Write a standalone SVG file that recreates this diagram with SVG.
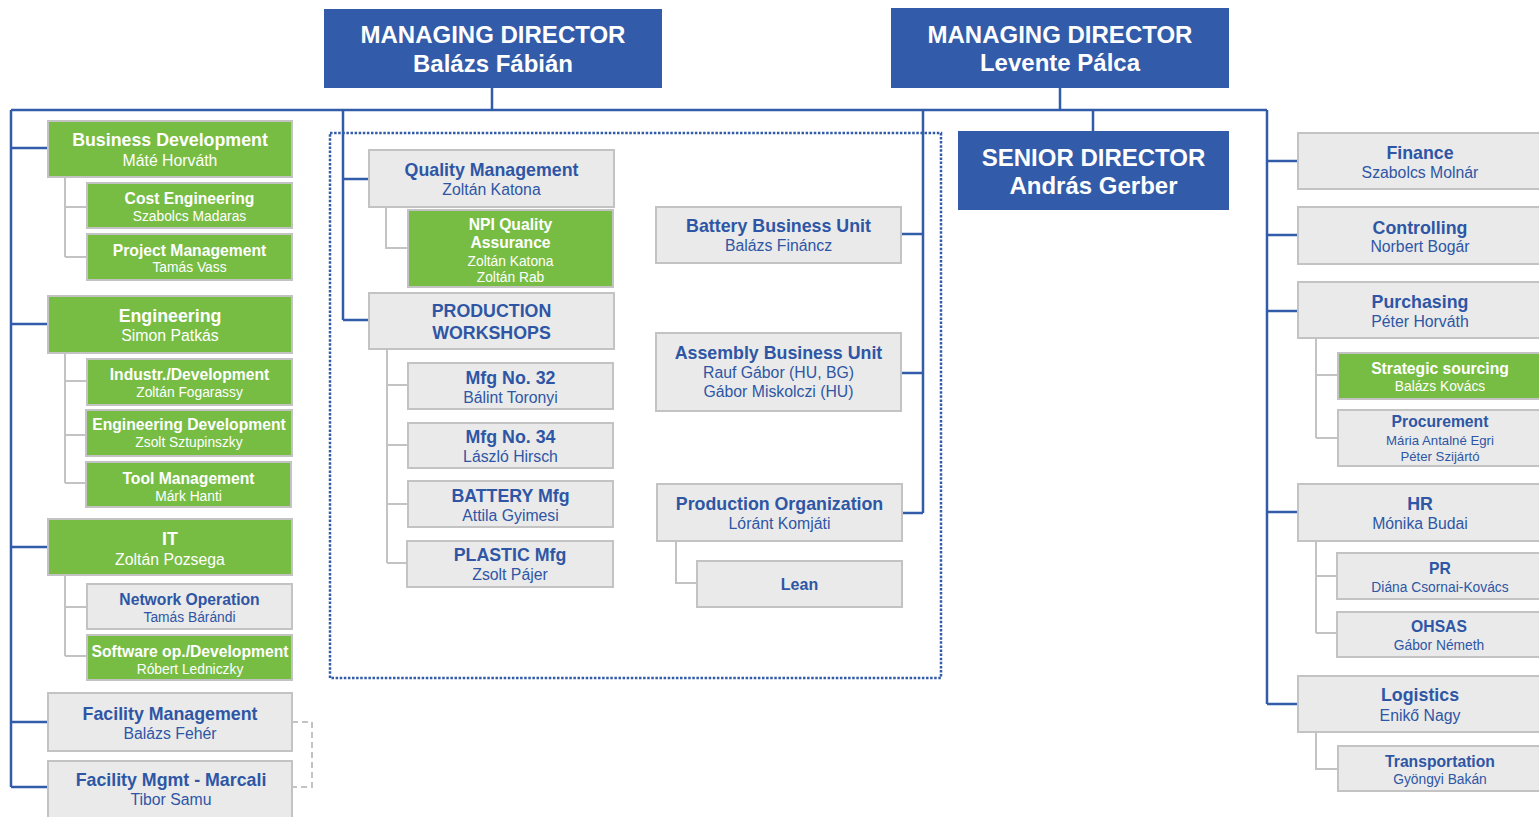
<svg xmlns="http://www.w3.org/2000/svg" width="1539" height="817" viewBox="0 0 1539 817">
<style>
text{font-family:"Liberation Sans",Arial,sans-serif;text-anchor:middle}
.g{fill:#77bd43;stroke:#c3c3c3;stroke-width:2}
.w{fill:#eaeaea;stroke:#c3c3c3;stroke-width:2}
.d{fill:#325ba9}
.t1{font-size:17.8px;font-weight:bold}
.n1{font-size:15.8px}
.t2{font-size:15.7px;font-weight:bold}
.n2{font-size:13.8px}
.dt{font-size:24px;font-weight:bold;fill:#fff}
.g ~ text{fill:#fff}
.w ~ text{fill:#2e56a5}
.bl{fill:none;stroke:#325ba9;stroke-width:2.5}
.gr{fill:none;stroke:#c3c3c3;stroke-width:2}
.ds{fill:none;stroke:#c3c3c3;stroke-width:2;stroke-dasharray:6 4}
.dot{fill:none;stroke:#325ba9;stroke-width:2.5;stroke-dasharray:2.5 1.6}
</style>
<g id="connectors">
<rect class="dot" x="330" y="133" width="611" height="545"/>
<path class="bl" d="M11,110 H1267 M492,88 V110 M1060,88 V110 M1093,110 V131"/>
<path class="bl" d="M11,110 V787 M11,148 H48 M11,324 H48 M11,547 H48 M11,722 H48 M11,787 H48"/>
<path class="bl" d="M343,110 V320 M343,179 H369 M343,320 H369"/>
<path class="bl" d="M923,110 V513 M901,234 H923 M901,373 H923 M902,513 H923"/>
<path class="bl" d="M1267,110 V704 M1267,161 H1298 M1267,235 H1298 M1267,311 H1298 M1267,512 H1298 M1267,704 H1298"/>
<path class="gr" d="M65,177 V257 M65,207 H87 M65,257 H87"/>
<path class="gr" d="M65,353 V483 M65,381 H87 M65,435 H86 M65,483 H86"/>
<path class="gr" d="M65,575 V656 M65,607 H87 M65,656 H87"/>
<path class="ds" d="M292,722 H312 V787 H292"/>
<path class="gr" d="M386,207 V248 H408"/>
<path class="gr" d="M387,349 V563 M387,385 H408 M387,445 H408 M387,504 H408 M387,563 H407"/>
<path class="gr" d="M676,541 V583 H697"/>
<path class="gr" d="M1316,338 V438 M1316,375 H1338 M1316,438 H1338"/>
<path class="gr" d="M1316,541 V633 M1316,576 H1337 M1316,633 H1337"/>
<path class="gr" d="M1316,732 V769 H1338"/>
</g>
<g id="md1"><rect class="d" x="324" y="9" width="338" height="79"/><text class="dt" x="493" y="43">MANAGING DIRECTOR</text><text class="dt" x="493" y="72">Balázs Fábián</text></g>
<g id="md2"><rect class="d" x="891" y="8" width="338" height="80"/><text class="dt" x="1060" y="43">MANAGING DIRECTOR</text><text class="dt" x="1060" y="71">Levente Pálca</text></g>
<g id="senior"><rect class="d" x="958" y="131" width="271" height="79"/><text class="dt" x="1093.5" y="166">SENIOR DIRECTOR</text><text class="dt" x="1093.5" y="194">András Gerber</text></g>

<g id="bizdev"><rect class="g" x="48" y="121" width="244" height="56"/><text class="t1" x="170" y="146">Business Development</text><text class="n1" x="170" y="166">Máté Horváth</text></g>
<g id="costeng"><rect class="g" x="87" y="183" width="205" height="45"/><text class="t2" x="189.5" y="204">Cost Engineering</text><text class="n2" x="189.5" y="220.5">Szabolcs Madaras</text></g>
<g id="projmgmt"><rect class="g" x="87" y="234" width="205" height="46"/><text class="t2" x="189.5" y="255.5">Project Management</text><text class="n2" x="189.5" y="271.5">Tamás Vass</text></g>
<g id="eng"><rect class="g" x="48" y="296" width="244" height="57"/><text class="t1" x="170" y="322">Engineering</text><text class="n1" x="170" y="340.5">Simon Patkás</text></g>
<g id="industr"><rect class="g" x="87" y="359" width="205" height="46"/><text class="t2" x="189.5" y="380">Industr./Development</text><text class="n2" x="189.5" y="396.5">Zoltán Fogarassy</text></g>
<g id="engdev"><rect class="g" x="86" y="410" width="206" height="46"/><text class="t2" x="189" y="429.5">Engineering Development</text><text class="n2" x="189" y="446.5">Zsolt Sztupinszky</text></g>
<g id="tool"><rect class="g" x="86" y="462" width="205" height="45"/><text class="t2" x="188.5" y="483.5">Tool Management</text><text class="n2" x="188.5" y="500.5">Márk Hanti</text></g>
<g id="it"><rect class="g" x="48" y="519" width="244" height="56"/><text class="t1" x="170" y="545">IT</text><text class="n1" x="170" y="564.5">Zoltán Pozsega</text></g>
<g id="netop"><rect class="w" x="87" y="584" width="205" height="45"/><text class="t2" x="189.5" y="604.5">Network Operation</text><text class="n2" x="189.5" y="621.5">Tamás Bárándi</text></g>
<g id="softop"><rect class="g" x="87" y="635" width="205" height="45"/><text class="t2" x="190" y="656.5">Software op./Development</text><text class="n2" x="190" y="673.5">Róbert Ledniczky</text></g>
<g id="facility"><rect class="w" x="48" y="693" width="244" height="58"/><text class="t1" x="170" y="720">Facility Management</text><text class="n1" x="170" y="738.5">Balázs Fehér</text></g>
<g id="marcali"><rect class="w" x="48" y="761" width="244" height="62"/><text class="t1" x="171" y="786">Facility Mgmt - Marcali</text><text class="n1" x="171" y="805">Tibor Samu</text></g>

<g id="qm"><rect class="w" x="369" y="150" width="245" height="57"/><text class="t1" x="491.5" y="175.5">Quality Management</text><text class="n1" x="491.5" y="194.5">Zoltán Katona</text></g>
<g id="npi"><rect class="g" x="408" y="210" width="205" height="77"/><text class="t2" x="510.5" y="230">NPI Quality</text><text class="t2" x="510.5" y="248">Assurance</text><text class="n2" x="510.5" y="266">Zoltán Katona</text><text class="n2" x="510.5" y="282">Zoltán Rab</text></g>
<g id="prodws"><rect class="w" x="369" y="293" width="245" height="56"/><text class="t1" x="491.5" y="317">PRODUCTION</text><text class="t1" x="491.5" y="339">WORKSHOPS</text></g>
<g id="mfg32"><rect class="w" x="408" y="363" width="205" height="46"/><text class="t1" x="510.5" y="384">Mfg No. 32</text><text class="n1" x="510.5" y="402.5">Bálint Toronyi</text></g>
<g id="mfg34"><rect class="w" x="408" y="423" width="205" height="45"/><text class="t1" x="510.5" y="443">Mfg No. 34</text><text class="n1" x="510.5" y="461.5">László Hirsch</text></g>
<g id="batmfg"><rect class="w" x="408" y="481" width="205" height="46"/><text class="t1" x="510.5" y="502">BATTERY Mfg</text><text class="n1" x="510.5" y="521">Attila Gyimesi</text></g>
<g id="plastic"><rect class="w" x="407" y="541" width="206" height="46"/><text class="t1" x="510" y="561">PLASTIC Mfg</text><text class="n1" x="510" y="580">Zsolt Pájer</text></g>

<g id="bbu"><rect class="w" x="656" y="207" width="245" height="56"/><text class="t1" x="778.5" y="232">Battery Business Unit</text><text class="n1" x="778.5" y="251">Balázs Fináncz</text></g>
<g id="abu"><rect class="w" x="656" y="333" width="245" height="78"/><text class="t1" x="778.5" y="359">Assembly Business Unit</text><text class="n1" x="778.5" y="378">Rauf Gábor (HU, BG)</text><text class="n1" x="778.5" y="397">Gábor Miskolczi (HU)</text></g>
<g id="prodorg"><rect class="w" x="657" y="484" width="245" height="57"/><text class="t1" x="779.5" y="510">Production Organization</text><text class="n1" x="779.5" y="529">Lóránt Komjáti</text></g>
<g id="lean"><rect class="w" x="697" y="561" width="205" height="46"/><text class="t2" x="799.5" y="589.5" style="font-size:16px">Lean</text></g>

<g id="finance"><rect class="w" x="1298" y="133" width="244" height="56"/><text class="t1" x="1420" y="159">Finance</text><text class="n1" x="1420" y="178">Szabolcs Molnár</text></g>
<g id="controlling"><rect class="w" x="1298" y="207" width="244" height="57"/><text class="t1" x="1420" y="233.5">Controlling</text><text class="n1" x="1420" y="252">Norbert Bogár</text></g>
<g id="purchasing"><rect class="w" x="1298" y="282" width="244" height="56"/><text class="t1" x="1420" y="307.5">Purchasing</text><text class="n1" x="1420" y="326.5">Péter Horváth</text></g>
<g id="strategic"><rect class="g" x="1338" y="353" width="204" height="46"/><text class="t2" x="1440" y="373.5">Strategic sourcing</text><text class="n2" x="1440" y="390.5">Balázs Kovács</text></g>
<g id="procurement"><rect class="w" x="1338" y="410" width="204" height="56"/><text class="t2" x="1440" y="427">Procurement</text><text class="n2" x="1440" y="444.5" style="font-size:13.2px">Mária Antalné Egri</text><text class="n2" x="1440" y="460.5" style="font-size:13.2px">Péter Szijártó</text></g>
<g id="hr"><rect class="w" x="1298" y="484" width="244" height="57"/><text class="t1" x="1420" y="510">HR</text><text class="n1" x="1420" y="528.5">Mónika Budai</text></g>
<g id="pr"><rect class="w" x="1337" y="553" width="205" height="46"/><text class="t2" x="1440" y="573.5">PR</text><text class="n2" x="1440" y="592">Diána Csornai-Kovács</text></g>
<g id="ohsas"><rect class="w" x="1337" y="612" width="205" height="45"/><text class="t2" x="1439" y="632">OHSAS</text><text class="n2" x="1439" y="649.5">Gábor Németh</text></g>
<g id="logistics"><rect class="w" x="1298" y="676" width="244" height="56"/><text class="t1" x="1420" y="701">Logistics</text><text class="n1" x="1420" y="721">Enikő Nagy</text></g>
<g id="transport"><rect class="w" x="1338" y="746" width="204" height="45"/><text class="t2" x="1440" y="767">Transportation</text><text class="n2" x="1440" y="783.5">Gyöngyi Bakán</text></g>
</svg>
